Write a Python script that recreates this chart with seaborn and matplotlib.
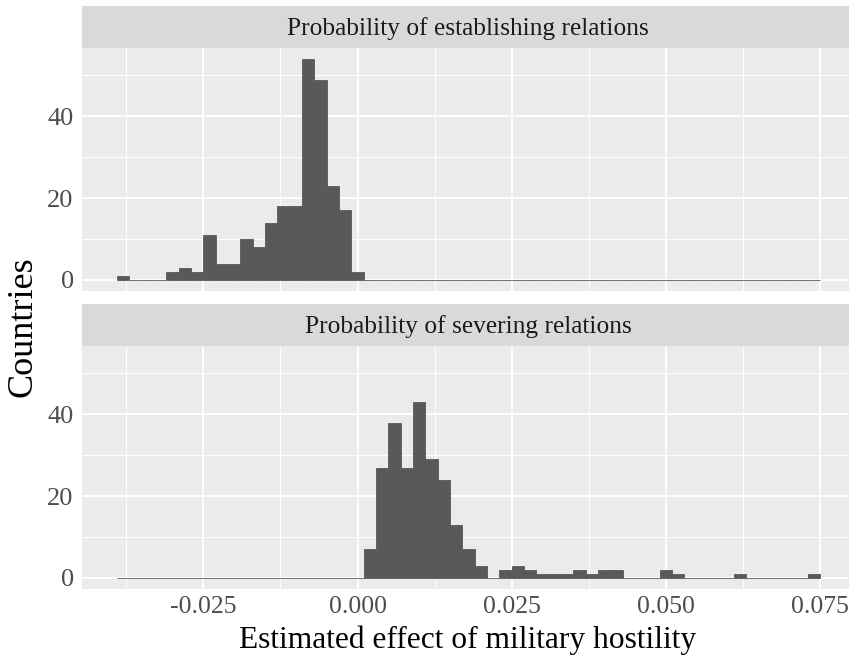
import numpy as np
import pandas as pd
import seaborn as sns
import matplotlib
matplotlib.use('Agg')
import matplotlib.pyplot as plt

# bin centres (non-empty bins only) and counts
establish_x = [-0.038, -0.030, -0.028, -0.026, -0.024, -0.022, -0.020, -0.018, -0.016,
               -0.014, -0.012, -0.010, -0.008, -0.006, -0.004, -0.002, 0.000]
establish_n = [1, 2, 3, 2, 11, 4, 4, 10, 8, 14, 18, 18, 54, 49, 23, 17, 2]

sever_x = [0.002, 0.004, 0.006, 0.008, 0.010, 0.012, 0.014, 0.016, 0.018, 0.020,
           0.024, 0.026, 0.028, 0.030, 0.032, 0.034, 0.036, 0.038, 0.040, 0.042,
           0.050, 0.052, 0.062, 0.074]
sever_n = [7, 27, 38, 27, 43, 29, 24, 13, 7, 3,
           2, 3, 2, 1, 1, 1, 2, 1, 2, 2,
           2, 1, 1, 1]

panel_titles = ['Probability of establishing relations', 'Probability of severing relations']
x_ticks = [-0.025, 0.000, 0.025, 0.050, 0.075]
x_ticklabels = ['-0.025', '0.000', '0.025', '0.050', '0.075']
y_ticks = [0, 20, 40]

binwidth = 0.002

df = pd.concat([
    pd.DataFrame({'x': establish_x, 'n': establish_n, 'panel': panel_titles[0]}),
    pd.DataFrame({'x': sever_x, 'n': sever_n, 'panel': panel_titles[1]}),
], ignore_index=True)

lo = df.x.min() - binwidth / 2
hi = df.x.max() + binwidth / 2
nbins = int(round((hi - lo) / binwidth))

sns.set_style('white')
plt.rcParams['font.family'] = ['Liberation Serif', 'DejaVu Serif']

fig = plt.figure(figsize=(8.49, 6.58), dpi=100)
W, H = 849, 658

def box(x0, y0, x1, y1):
    return [x0 / W, 1 - y1 / H, (x1 - x0) / W, (y1 - y0) / H]

xpad = (hi - lo) * 0.05
ymax = df.n.max()
ypad = ymax * 0.05

# panel runs a little past the right edge of the image, as in the original crop
strips = [(6, 48), (304, 346)]
panels = [(48, 291), (346, 589)]
left, right = 82, 855

for i, title in enumerate(panel_titles):
    sax = fig.add_axes(box(left, strips[i][0], right, strips[i][1]))
    sax.set_facecolor('#D9D9D9')
    sax.set_xticks([])
    sax.set_yticks([])
    for s in sax.spines.values():
        s.set_visible(False)
    sax.text((468 - left) / (right - left), 0.47, title, ha='center', va='center',
             fontsize=18.3, color='#1A1A1A', transform=sax.transAxes)

    ax = fig.add_axes(box(left, panels[i][0], right, panels[i][1]))
    ax.set_facecolor('#EBEBEB')
    sub = df[df.panel == title]
    sns.histplot(data=sub, x='x', weights='n', bins=nbins, binrange=(lo, hi), ax=ax,
                 color='#595959', edgecolor='#595959', linewidth=0.6, alpha=1)
    ax.set_xlim(lo - xpad, hi + xpad)
    ax.set_ylim(-ypad, ymax + ypad)
    ax.set_xticks(x_ticks)
    ax.set_xticks([-0.0375, -0.0125, 0.0125, 0.0375, 0.0625], minor=True)
    ax.set_yticks(y_ticks)
    ax.set_yticks([10, 30, 50], minor=True)
    ax.grid(which='major', color='white', linewidth=1.4)
    ax.grid(which='minor', color='white', linewidth=0.7)
    ax.set_axisbelow(True)
    for s in ax.spines.values():
        s.set_visible(False)
    ax.set_xlabel('')
    ax.set_ylabel('')
    ax.tick_params(axis='y', which='major', length=4, width=1.1, color='#333333',
                   labelsize=19, labelcolor='#4D4D4D', pad=2)
    ax.tick_params(which='minor', length=0)
    if i == 0:
        ax.tick_params(axis='x', which='major', length=0, labelbottom=False)
    else:
        ax.set_xticklabels(x_ticklabels)
        ax.tick_params(axis='x', which='major', length=4, width=1.1, color='#333333',
                       labelsize=18.5, labelcolor='#4D4D4D', pad=1)

fig.text(468 / W, 1 - 648 / H, 'Estimated effect of military hostility', ha='center',
         va='baseline', fontsize=22.7, color='black')
fig.text(23 / W, 1 - 327 / H, 'Countries', ha='center', va='center', rotation=90,
         fontsize=26, color='black')

fig.savefig('out.png', dpi=100)
